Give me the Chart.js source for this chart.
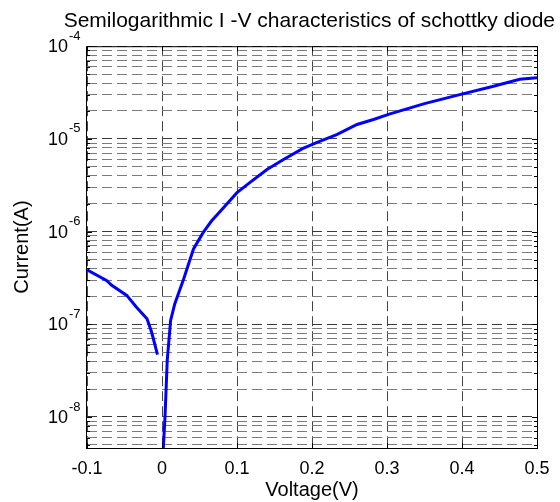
<!DOCTYPE html>
<html>
<head>
<meta charset="utf-8">
<script src="https://cdn.jsdelivr.net/npm/chart.js@4.4.1/dist/chart.umd.min.js"></script>
<style>
  body { margin: 0; background: #fff; }
  canvas { display: block; }
</style>
</head>
<body>
<canvas id="ivChart" width="560" height="502"></canvas>
<script>
// reverse-bias branch: voltage (V) and current (A)
const reverseVoltage = [-0.100, -0.074, -0.067, -0.047, -0.034, -0.020, -0.014, -0.006];
const reverseCurrent = [3.87e-7, 2.97e-7, 2.63e-7, 2.05e-7, 1.53e-7, 1.15e-7, 8.3e-8, 4.7e-8];

// forward-bias branch
const forwardVoltage = [0.001, 0.004, 0.007, 0.0115, 0.017, 0.029, 0.042, 0.055, 0.066, 0.082, 0.100, 0.117, 0.140,
                        0.162, 0.188, 0.206, 0.233, 0.260, 0.282, 0.303, 0.350, 0.397, 0.442, 0.477, 0.500];
const forwardCurrent = [3.5e-9, 1.0e-8, 4.1e-8, 1.1e-7, 1.66e-7, 3.1e-7, 6.5e-7, 9.8e-7, 1.30e-6, 1.81e-6, 2.63e-6, 3.37e-6, 4.68e-6,
                        6.0e-6, 7.9e-6, 9.1e-6, 1.11e-5, 1.43e-5, 1.62e-5, 1.85e-5, 2.4e-5, 3.0e-5, 3.7e-5, 4.4e-5, 4.57e-5];

const xTicks = [-0.1, 0, 0.1, 0.2, 0.3, 0.4, 0.5];
const xTickLabels = ['-0.1', '0', '0.1', '0.2', '0.3', '0.4', '0.5'];
const yDecades = [-9, -8, -7, -6, -5, -4];   // exponents, 10^-9 only feeds minor lines
const yMinorSteps = [2, 3, 4, 5, 6, 7, 8, 9];
const yMin = 4.63e-9;
const yMax = 1e-4;

const FONT = '"Liberation Sans", Arial, sans-serif';

function toPoints(xs, ys) {
    return xs.map((v, i) => ({ x: v, y: ys[i] }));
}

// box round the axes, inner tick marks and the 10^n labels
const matlabAxes = {
    id: 'matlabAxes',
    afterDraw(chart) {
        const { ctx, chartArea: a, scales: { x, y } } = chart;
        ctx.save();
        ctx.strokeStyle = '#000';
        ctx.lineWidth = 1;
        ctx.beginPath();
        y.ticks.forEach(t => {
            const py = Math.round(y.getPixelForValue(t.value)) + 0.5;
            const len = t.major ? 5 : 3;
            ctx.moveTo(a.left, py); ctx.lineTo(a.left + len, py);
            ctx.moveTo(a.right, py); ctx.lineTo(a.right - len, py);
        });
        x.ticks.forEach(t => {
            const px = Math.round(x.getPixelForValue(t.value)) + 0.5;
            ctx.moveTo(px, a.bottom); ctx.lineTo(px, a.bottom - 5);
            ctx.moveTo(px, a.top); ctx.lineTo(px, a.top + 5);
        });
        ctx.stroke();
        ctx.strokeRect(a.left - 0.5, a.top + 0.5, a.right - a.left + 1, a.bottom - a.top);

        ctx.fillStyle = '#000';
        ctx.textBaseline = 'middle';
        yDecades.forEach(e => {
            const v = Math.pow(10, e);
            if (v < yMin || v > yMax) return;
            const py = y.getPixelForValue(v);
            ctx.font = '18px ' + FONT;
            ctx.textAlign = 'right';
            ctx.fillText('10', a.left - 19, py + 1);
            ctx.font = '13px ' + FONT;
            ctx.textAlign = 'left';
            ctx.fillText(String(e), a.left - 18, py - 10);
        });
        ctx.restore();
    }
};

const ctx = document.getElementById('ivChart').getContext('2d');

const ivChart = new Chart(ctx, {
    type: 'line',
    data: {
        datasets: [{
            label: 'reverse',
            data: toPoints(reverseVoltage, reverseCurrent),
            borderColor: '#0000ff',
            borderWidth: 3,
            pointRadius: 0,
            tension: 0,
            fill: false,
            clip: 0
        }, {
            label: 'forward',
            data: toPoints(forwardVoltage, forwardCurrent),
            borderColor: '#0000ff',
            borderWidth: 3,
            pointRadius: 0,
            tension: 0,
            fill: false,
            clip: 0
        }]
    },
    options: {
        responsive: false,
        animation: false,
        layout: { padding: { left: 0, right: 5, top: 0, bottom: 0 } },
        plugins: {
            legend: { display: false },
            tooltip: { enabled: false },
            title: {
                display: true,
                text: 'Semilogarithmic I -V characteristics of schottky diode',
                align: 'end',
                color: '#000',
                font: { family: FONT, size: 21, weight: 'normal' },
                padding: { top: 9, bottom: 12 }
            }
        },
        scales: {
            x: {
                type: 'linear',
                min: -0.1,
                max: 0.5,
                afterBuildTicks: s => { s.ticks = xTicks.map(v => ({ value: v })); },
                afterFit: s => { s.height = 54; },
                grid: { color: '#444', lineWidth: 1, drawTicks: false },
                border: { display: false, dash: [10, 5] },
                ticks: {
                    padding: 10,
                    color: '#000',
                    autoSkip: false,
                    maxRotation: 0,
                    font: { family: FONT, size: 18 },
                    callback: (v, i) => xTickLabels[i]
                },
                title: {
                    display: true,
                    text: 'Voltage(V)',
                    color: '#000',
                    font: { family: FONT, size: 20 },
                    padding: { top: 0, bottom: 0 }
                }
            },
            y: {
                type: 'logarithmic',
                min: yMin,
                max: yMax,
                afterBuildTicks: s => {
                    const ticks = [];
                    yDecades.forEach(e => {
                        const d = Math.pow(10, e);
                        if (d >= yMin && d <= yMax) ticks.push({ value: d, major: true });
                        yMinorSteps.forEach(m => {
                            const v = m * d;
                            if (v >= yMin && v <= yMax) ticks.push({ value: v, major: false });
                        });
                    });
                    s.ticks = ticks;
                },
                afterFit: s => { s.width = 87; },
                grid: {
                    color: c => (c.tick && c.tick.major) ? '#3a3a3a' : '#7a7a7a',
                    lineWidth: 1,
                    drawTicks: false
                },
                border: { display: false, dash: [10, 5] },
                ticks: { display: false },
                title: {
                    display: true,
                    text: 'Current(A)',
                    color: '#000',
                    font: { family: FONT, size: 20 },
                    padding: { top: 10, bottom: 0 }
                }
            },
            // empty right-hand axis, only keeps the margin on the right
            yRight: {
                type: 'linear',
                position: 'right',
                afterFit: s => { s.width = 18; },
                grid: { display: false },
                border: { display: false },
                ticks: { display: false }
            }
        }
    },
    plugins: [matlabAxes]
});
</script>
</body>
</html>
